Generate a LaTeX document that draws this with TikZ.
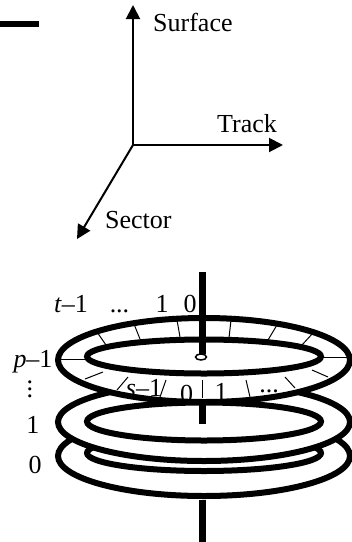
\documentclass[tikz,border=0pt]{standalone}
\usepackage{fontspec}
\setmainfont{Liberation Serif}
\usetikzlibrary{arrows.meta}
\tikzset{
  lbl/.style={anchor=base, inner sep=0pt, font=\fontsize{26}{28}\selectfont},
  axis/.style={line width=2pt, -{Triangle[length=14pt, width=14pt]}},
  rim/.style={line width=6pt},
  spindle/.style={line width=7pt},
  sectorline/.style={line width=1pt}
}
\begin{document}
\begin{tikzpicture}[x=1pt, y=-1pt]
  \useasboundingbox (0,0) rectangle (352,542);
  \draw[spindle, line width=6pt] (0,24) -- (39,24);
  % Axes
  \coordinate (origin) at (133,145);
  \coordinate (surfaceEnd) at (133,5);
  \coordinate (trackEnd) at (283,145);
  \coordinate (sectorEnd) at (77,239);
  \draw[axis] (origin) -- (surfaceEnd);
  \draw[axis] (origin) -- (trackEnd);
  \draw[axis] (origin) -- (sectorEnd);
  \node[lbl, anchor=base west] (surfaceLbl) at (153,31) {Surface};
  \node[lbl, anchor=base west] (trackLbl) at (217,132) {Track};
  \node[lbl, anchor=base west] (sectorLbl) at (105,228) {Sector};
  % Bottom disk
  \draw[rim] (204,456) ellipse (146 and 40);
  \draw[rim] (204,453) ellipse (117 and 18);
  \draw[spindle] (202,500) -- (202,542);
  % Middle disk
  \draw[rim, fill=white] (204,422) ellipse (146 and 39);
  \draw[rim, fill=white] (204,421.5) ellipse (117 and 19);
  \draw[spindle] (202,404) -- (202,424);
  % Top disk
  \fill[white] (204,360) ellipse (146 and 42);
  \foreach \xa/\ya/\xb/\yb in {97/332/106/345, 134/324/140/339, 177/320/180/337,
      231/320/229/338, 277/325/268/340, 313/333/302/345, 323/357/350/357,
      60/359/87/359, 85/379/103/372, 117/390/128/377, 160/397/166/380,
      202/398/202/380, 250/397/246/380, 295/388/285/377, 328/377/312/370}{
    \draw[sectorline] (\xa,\ya) -- (\xb,\yb);
  }
  % Sector numbers, cut off by the rim
  \node[lbl] (sectorS) at (144,396) {\textit{s}–1};
  \node[lbl] (sectorZero) at (186.5,402) {0};
  \node[lbl] (sectorOne) at (221,400) {1};
  \node[lbl] (sectorDots) at (269,392) {...};
  \draw[rim] (204,360) ellipse (146 and 42);
  \draw[rim, fill=white] (204,356.5) ellipse (117 and 17);
  \draw[spindle] (202,272) -- (202,354);
  \draw[line width=1.5pt, fill=white] (201,357) ellipse (5.5 and 3);
  % Track numbers
  \node[lbl] (trackT) at (71,312) {\textit{t}–1};
  \node[lbl] (trackDots) at (119.5,312) {...};
  \node[lbl] (trackOne) at (162,312) {1};
  \node[lbl] (trackZero) at (190,312) {0};
  % Surface numbers
  \node[lbl] (surfaceP) at (33,367) {\textit{p}–1};
  \node[lbl] (surfaceDots) at (30,397) {\vbox{\baselineskip7pt\lineskiplimit0pt\hbox{.}\hbox{.}\hbox{.}}};
  \node[lbl] (surfaceOne) at (33,433) {1};
  \node[lbl] (surfaceZero) at (35,473) {0};
\end{tikzpicture}
\end{document}
